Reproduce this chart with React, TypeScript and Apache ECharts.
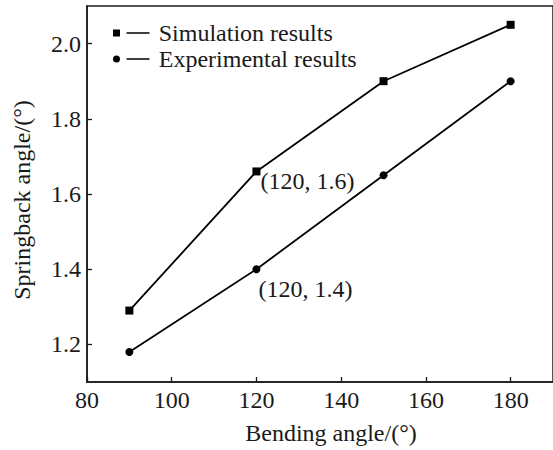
import React, { useEffect, useRef } from "react";
import * as echarts from "echarts";

const bendingAngles = [90, 120, 150, 180];
const simulationValues = [1.29, 1.66, 1.9, 2.05];
const experimentalValues = [1.18, 1.4, 1.65, 1.9];
const seriesNames = ["Simulation results", "Experimental results"];
const annotationTexts = ["(120, 1.6)", "(120, 1.4)"];
const annotationIndex = 1;
const yTickValues = [1.2, 1.4, 1.6, 1.8, 2.0];

const FONT = "'Liberation Serif', 'Times New Roman', serif";
const INK = "#1a1a1a";

export default function App() {
  const ref = useRef<HTMLDivElement>(null);
  useEffect(() => {
    document.body.style.margin = "0";
    if (!ref.current) return;
    const chart = echarts.init(ref.current, null, { renderer: "svg" });

    const mk = (vals: number[], label: string, offset: number[]) =>
      bendingAngles.map((x, i) =>
        i === annotationIndex
          ? {
              value: [x, vals[i]],
              label: {
                show: true,
                formatter: label,
                position: "right",
                distance: 0,
                offset,
                color: INK,
                fontSize: 24,
                fontFamily: FONT,
              },
            }
          : { value: [x, vals[i]] }
      );

    const simIcon = "path://M0,0h7v7h-7z M13.5,2.7h23v1.6h-23z";
    const expIcon =
      "path://M0,3.5A3.5,3.5 0 1 0 7,3.5A3.5,3.5 0 1 0 0,3.5z M13.5,2.7h23v1.6h-23z";

    const legendText = {
      fontSize: 24,
      color: INK,
      fontFamily: FONT,
      padding: [0, 0, 0, 4],
    };

    chart.setOption({
      animation: false,
      backgroundColor: "#fff",
      textStyle: { fontFamily: FONT },
      grid: {
        left: 87,
        top: 6,
        right: -3,
        bottom: 67,
        show: true,
        borderColor: INK,
        borderWidth: 1.5,
        containLabel: false,
      },
      legend: [
        {
          data: [{ name: seriesNames[0], icon: simIcon }],
          left: 113,
          top: 21,
          itemWidth: 37,
          itemHeight: 7,
          itemGap: 0,
          padding: 0,
          textStyle: legendText,
        },
        {
          data: [{ name: seriesNames[1], icon: expIcon }],
          left: 113,
          top: 47,
          itemWidth: 37,
          itemHeight: 7,
          itemGap: 0,
          padding: 0,
          textStyle: legendText,
        },
      ],
      xAxis: {
        type: "value",
        min: 80,
        max: 190,
        interval: 20,
        name: "Bending angle/(°)",
        nameLocation: "middle",
        nameGap: 39,
        nameTextStyle: { fontSize: 24, color: INK, fontFamily: FONT, padding: [0, 0, 0, 22] },
        axisLine: { lineStyle: { color: INK, width: 1.5 } },
        axisTick: { inside: true, length: 5, lineStyle: { color: INK, width: 1.3 } },
        axisLabel: { fontSize: 24, color: INK, fontFamily: FONT, margin: 6, showMaxLabel: false },
        splitLine: { show: false },
      },
      yAxis: {
        type: "value",
        min: 1.1,
        max: 2.1,
        name: "Springback angle/(°)",
        nameLocation: "middle",
        nameGap: 53,
        nameTextStyle: { fontSize: 24, color: INK, fontFamily: FONT, padding: [0, 12, 0, 0] },
        axisLine: { lineStyle: { color: INK, width: 1.5 } },
        axisTick: {
          inside: true,
          length: 5,
          customValues: yTickValues,
          lineStyle: { color: INK, width: 1.3 },
        },
        axisLabel: {
          fontSize: 24,
          color: INK,
          fontFamily: FONT,
          margin: 6,
          customValues: yTickValues,
          formatter: (v: number) => v.toFixed(1),
        },
        splitLine: { show: false },
      },
      series: [
        {
          name: seriesNames[0],
          type: "line",
          data: mk(simulationValues, annotationTexts[0], [0, 10]),
          symbol: "rect",
          symbolSize: 8,
          itemStyle: { color: "#000" },
          lineStyle: { color: "#000", width: 1.8 },
        },
        {
          name: seriesNames[1],
          type: "line",
          data: mk(experimentalValues, annotationTexts[1], [-2, 20]),
          symbol: "circle",
          symbolSize: 8,
          itemStyle: { color: "#000" },
          lineStyle: { color: "#000", width: 1.8 },
        },
      ],
    });
    return () => chart.dispose();
  }, []);
  return <div ref={ref} style={{ width: 553, height: 450 }} />;
}
